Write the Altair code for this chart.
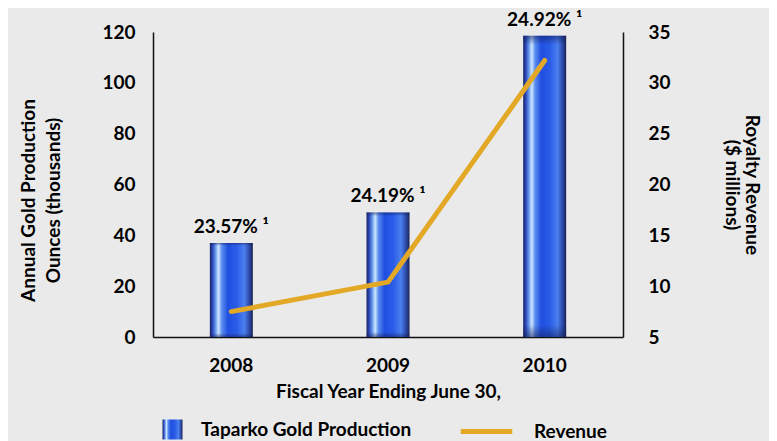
import altair as alt
import pandas as pd

years = ["2008", "2009", "2010"]
production = [37.0, 49.0, 118.5]
revenue = [7.5, 10.4, 32.2]
labels = ["23.57% ¹", "24.19% ¹", "24.92% ¹"]
series_bar = "Taparko Gold Production"
series_line = "Revenue"
left_ticks = [0, 20, 40, 60, 80, 100, 120]
right_ticks = [5, 10, 15, 20, 25, 30, 35]

df = pd.DataFrame({
    "year": years,
    "production": production,
    "revenue": revenue,
    "label": labels,
    "s1": [series_bar] * 3,
    "s2": [series_line] * 3,
})

FONT = "Lato"
FS = 19
AXIS_COLOR = "#111111"
GOLD = "#E2A826"

bar_grad = alt.LinearGradient(
    gradient="linear", x1=0, x2=1, y1=0, y2=0,
    stops=[
        alt.GradientStop(offset=0.0, color="#1b2660"),
        alt.GradientStop(offset=0.06, color="#2a45b8"),
        alt.GradientStop(offset=0.14, color="#6fa0f0"),
        alt.GradientStop(offset=0.2, color="#cfe6ff"),
        alt.GradientStop(offset=0.28, color="#5a8cf0"),
        alt.GradientStop(offset=0.42, color="#1f4fe0"),
        alt.GradientStop(offset=0.62, color="#2a5ce8"),
        alt.GradientStop(offset=0.8, color="#4a7fee"),
        alt.GradientStop(offset=0.92, color="#2a49a8"),
        alt.GradientStop(offset=1.0, color="#1a2250"),
    ],
)

cap_grad = alt.LinearGradient(
    gradient="linear", x1=0, x2=0, y1=0, y2=1,
    stops=[
        alt.GradientStop(offset=0.0, color="rgba(20,30,90,0.55)"),
        alt.GradientStop(offset=0.03, color="rgba(20,30,90,0.0)"),
        alt.GradientStop(offset=0.96, color="rgba(20,30,90,0.0)"),
        alt.GradientStop(offset=1.0, color="rgba(20,30,90,0.55)"),
    ],
)

x_enc = alt.X(
    "year:N",
    scale=alt.Scale(paddingInner=0, paddingOuter=0),
    axis=alt.Axis(
        title="Fiscal Year Ending June 30,", labelAngle=0, ticks=False,
        labelPadding=19, titlePadding=7, domainColor=AXIS_COLOR, domainWidth=1.5,
    ),
)

y_left = alt.Y(
    "production:Q",
    scale=alt.Scale(domain=[0, 120], nice=False),
    axis=alt.Axis(
        title=["Annual Gold Production", "Ounces (thousands)"],
        values=left_ticks, ticks=False, labelPadding=18, titlePadding=38,
        titleLineHeight=25, titleY=168, domainColor=AXIS_COLOR, domainWidth=1.5,
    ),
)

bars = alt.Chart(df).mark_bar(size=43, color=bar_grad).encode(
    x=x_enc,
    y=y_left,
    opacity=alt.Opacity(
        "s1:N",
        scale=alt.Scale(domain=[series_bar], range=[1]),
        legend=alt.Legend(
            title=None, orient="none", legendX=9, legendY=387, padding=0,
            symbolType="square", symbolSize=400, symbolFillColor="#2a52c8",
            symbolStrokeColor="#1a2560", symbolStrokeWidth=1, labelOffset=18,
            labelLimit=0,
            labelFont=FONT, labelFontSize=FS, labelFontWeight="bold", labelColor="#000000",
        ),
    ),
)

caps = alt.Chart(df).mark_bar(size=43, color=cap_grad).encode(
    x=alt.X("year:N"), y=alt.Y("production:Q")
)

text = alt.Chart(df).mark_text(
    dy=-10, baseline="alphabetic", font=FONT, fontSize=FS, fontWeight="bold", color="#000000"
).encode(x=alt.X("year:N"), y=alt.Y("production:Q"), text="label:N")

left_layer = alt.layer(bars, caps, text)

line = alt.Chart(df).mark_line(strokeWidth=5, strokeCap="round").encode(
    x=alt.X("year:N"),
    y=alt.Y(
        "revenue:Q",
        scale=alt.Scale(domain=[5, 35], nice=False),
        axis=alt.Axis(
            orient="right", title=["Royalty Revenue", "($ millions)"], titleAngle=90,
            values=right_ticks, ticks=False, labelPadding=25, titlePadding=51,
            titleLineHeight=20, domainColor=AXIS_COLOR, domainWidth=1.5,
        ),
    ),
    stroke=alt.Stroke(
        "s2:N",
        scale=alt.Scale(domain=[series_line], range=[GOLD]),
        legend=alt.Legend(
            title=None, orient="none", legendX=305, legendY=371, padding=0,
            symbolType="stroke", symbolSize=2650, symbolStrokeWidth=5, labelOffset=19,
            labelLimit=0,
            labelFont=FONT, labelFontSize=FS, labelFontWeight="bold", labelColor="#000000",
        ),
    ),
)

chart = alt.layer(left_layer, line).resolve_scale(
    y="independent", opacity="independent", stroke="independent"
).properties(
    width=470, height=305,
    autosize=alt.AutoSizeParams(type="none"),
    padding={"left": 145, "top": 24, "right": 146, "bottom": 104},
    background="#eaeaea",
).configure_view(stroke=None).configure_axis(
    grid=False,
    labelFont=FONT, labelFontSize=FS, labelFontWeight="bold", labelColor="#000000",
    titleFont=FONT, titleFontSize=FS, titleFontWeight="bold", titleColor="#000000",
)

chart.save("out.html", embed_options={"renderer": "svg", "actions": False})
